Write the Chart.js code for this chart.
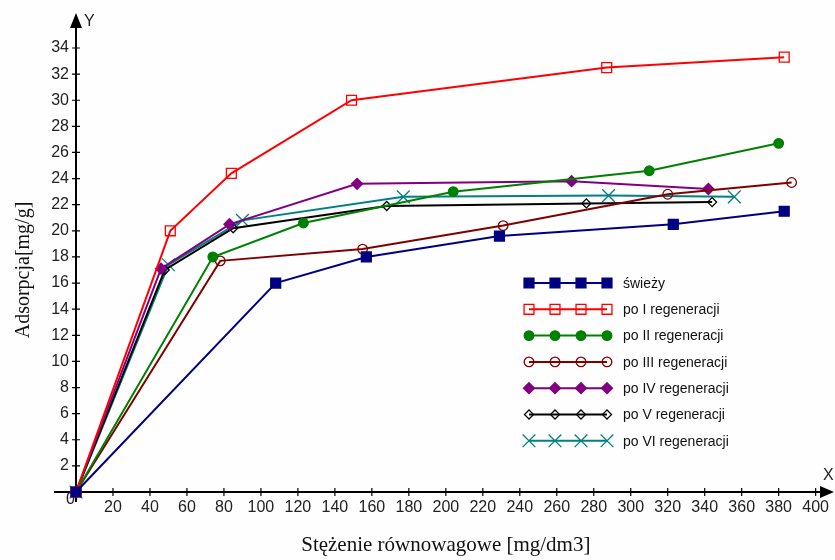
<!DOCTYPE html>
<html>
<head>
<meta charset="utf-8">
<script src="https://cdn.jsdelivr.net/npm/chart.js@4"></script>
<style>
  html, body { margin: 0; padding: 0; background: #fefefe; }
  #wrap { width: 835px; height: 560px; }
</style>
</head>
<body>
<div id="wrap"><canvas id="adsChart" width="835" height="560"></canvas></div>
<script>
const seriesNames = ["świeży", "po I regeneracji", "po II regeneracji", "po III regeneracji",
  "po IV regeneracji", "po V regeneracji", "po VI regeneracji"];

const swiezyX = [0, 108, 157, 229, 323, 383];
const swiezyY = [0, 16, 18, 19.6, 20.5, 21.5];
const reg1X = [0, 51, 84, 149, 287, 383];
const reg1Y = [0, 20, 24.4, 30.0, 32.5, 33.3];
const reg2X = [0, 74, 123, 204, 310, 380];
const reg2Y = [0, 18, 20.6, 23.0, 24.6, 26.7];
const reg3X = [0, 78, 155, 231, 320, 387];
const reg3Y = [0, 17.7, 18.6, 20.4, 22.8, 23.7];
const reg4X = [0, 46, 83, 152, 268, 342];
const reg4Y = [0, 17.1, 20.5, 23.6, 23.8, 23.2];
const reg5X = [0, 48, 85, 168, 276, 344];
const reg5Y = [0, 17, 20.2, 21.9, 22.1, 22.2];
const reg6X = [0, 50, 90, 177, 288, 356];
const reg6Y = [0, 17.4, 20.8, 22.6, 22.7, 22.6];

const xTicks = [0, 20, 40, 60, 80, 100, 120, 140, 160, 180, 200, 220, 240, 260, 280, 300, 320, 340, 360, 380, 400];
const yTicks = [0, 2, 4, 6, 8, 10, 12, 14, 16, 18, 20, 22, 24, 26, 28, 30, 32, 34];

function pts(xs, ys) {
  return xs.map((x, i) => ({ x: x, y: ys[i] }));
}

const styles = [
  { color: "#000080", style: "rect", fill: "#000080", r: 7 },
  { color: "#ff0000", style: "rect", fill: "rgba(0,0,0,0)", r: 7 },
  { color: "#008000", style: "circle", fill: "#008000", r: 4.8 },
  { color: "#800000", style: "circle", fill: "rgba(0,0,0,0)", r: 4.8 },
  { color: "#800080", style: "rectRot", fill: "#800080", r: 5.5 },
  { color: "#000000", style: "rectRot", fill: "rgba(0,0,0,0)", r: 4.5 },
  { color: "#008080", style: "crossRot", fill: "#008080", r: 9 }
];

const allX = [swiezyX, reg1X, reg2X, reg3X, reg4X, reg5X, reg6X];
const allY = [swiezyY, reg1Y, reg2Y, reg3Y, reg4Y, reg5Y, reg6Y];

const datasets = seriesNames.map((name, i) => ({
  label: name,
  data: pts(allX[i], allY[i]),
  borderColor: styles[i].color,
  backgroundColor: styles[i].fill,
  pointBorderColor: styles[i].color,
  pointBackgroundColor: styles[i].fill,
  pointStyle: styles[i].style,
  pointRadius: styles[i].r,
  pointBorderWidth: 1.3,
  borderWidth: 2,
  tension: 0,
  clip: false
}));

const PLOT = { left: 76, right: 816, top: 48, bottom: 492 };

// osie ze strzalkami + legenda rysowana recznie
const axesPlugin = {
  id: "axesPlugin",
  beforeDatasetsDraw(chart) {
    const ctx = chart.ctx;
    const xs = chart.scales.x, ys = chart.scales.y;
    const x0 = xs.getPixelForValue(0), y0 = ys.getPixelForValue(0);
    ctx.save();
    ctx.strokeStyle = "#000";
    ctx.fillStyle = "#000";
    ctx.lineWidth = 2;
    ctx.beginPath();
    ctx.moveTo(54, y0); ctx.lineTo(826, y0);
    ctx.moveTo(x0, 502); ctx.lineTo(x0, 22);
    ctx.stroke();
    // strzalki
    ctx.beginPath();
    ctx.moveTo(834, y0); ctx.lineTo(820, y0 - 6); ctx.lineTo(820, y0 + 6); ctx.closePath();
    ctx.moveTo(x0, 13); ctx.lineTo(x0 - 6, 28); ctx.lineTo(x0 + 6, 28); ctx.closePath();
    ctx.fill();
    ctx.lineWidth = 1.2;
    ctx.beginPath();
    xTicks.forEach(v => {
      if (v === 0) return;
      const p = xs.getPixelForValue(v);
      ctx.moveTo(p, y0 - 4); ctx.lineTo(p, y0 + 4);
    });
    yTicks.forEach(v => {
      if (v === 0) return;
      const p = ys.getPixelForValue(v);
      ctx.moveTo(x0 - 4, p); ctx.lineTo(x0 + 4, p);
    });
    ctx.stroke();
    ctx.font = "16px 'Liberation Sans', Arial, sans-serif";
    ctx.fillStyle = "#222";
    ctx.textAlign = "left";
    ctx.textBaseline = "middle";
    ctx.fillText("Y", x0 + 8, 22);
    ctx.fillText("X", 823, 476);
    ctx.fillText("0", 66, 500);
    ctx.restore();
  },
  afterDraw(chart) {
    const ctx = chart.ctx;
    const marks = [529, 555, 581, 607];
    ctx.save();
    chart.data.datasets.forEach((ds, i) => {
      const y = 283 + i * 26.3;
      ctx.strokeStyle = ds.borderColor;
      ctx.lineWidth = 2;
      ctx.beginPath();
      ctx.moveTo(marks[0], y); ctx.lineTo(marks[3], y);
      ctx.stroke();
      marks.forEach(mx => {
        ctx.fillStyle = ds.pointBackgroundColor;
        ctx.strokeStyle = ds.pointBorderColor;
        ctx.lineWidth = 1.3;
        Chart.helpers.drawPoint(ctx, {
          pointStyle: ds.pointStyle, radius: ds.pointRadius, rotation: 0, borderWidth: 1.3
        }, mx, y);
      });
      ctx.fillStyle = "#111";
      ctx.font = "14px 'Liberation Sans', Arial, sans-serif";
      ctx.textAlign = "left";
      ctx.textBaseline = "middle";
      ctx.fillText(ds.label, 623, y + 1);
    });
    ctx.restore();
  }
};

const ctx = document.getElementById("adsChart").getContext("2d");
const adsChart = new Chart(ctx, {
  type: "line",
  data: { datasets: datasets },
  options: {
    responsive: false,
    animation: false,
    layout: { padding: { top: PLOT.top, right: 835 - PLOT.right, left: 0, bottom: 0 } },
    plugins: { legend: { display: false }, tooltip: { enabled: false } },
    scales: {
      x: {
        type: "linear",
        min: 0,
        max: 400,
        afterFit(scale) { scale.height = 560 - PLOT.bottom; },
        afterBuildTicks(scale) { scale.ticks = xTicks.map(v => ({ value: v })); },
        grid: { display: false, drawTicks: false },
        border: { display: false },
        ticks: {
          padding: 6,
          maxRotation: 0,
          autoSkip: false,
          color: "#222",
          font: { family: "'Liberation Sans', Arial, sans-serif", size: 16 },
          callback: v => (v === 0 ? "" : v)
        },
        title: {
          display: true,
          text: "Stężenie równowagowe [mg/dm3]",
          color: "#111",
          padding: { top: 0, bottom: 2 },
          font: { family: "'Liberation Serif', 'Times New Roman', serif", size: 21 }
        }
      },
      y: {
        type: "linear",
        min: 0,
        max: 34,
        afterFit(scale) { scale.width = PLOT.left; },
        afterBuildTicks(scale) { scale.ticks = yTicks.map(v => ({ value: v })); },
        grid: { display: false, drawTicks: false },
        border: { display: false },
        ticks: {
          padding: 7,
          autoSkip: false,
          color: "#222",
          font: { family: "'Liberation Sans', Arial, sans-serif", size: 16 },
          callback: v => (v === 0 ? "" : v)
        },
        title: {
          display: true,
          text: "Adsorpcja[mg/g]",
          color: "#111",
          padding: { top: 12, bottom: 0 },
          font: { family: "'Liberation Serif', 'Times New Roman', serif", size: 20 }
        }
      }
    }
  },
  plugins: [axesPlugin]
});
</script>
</body>
</html>
